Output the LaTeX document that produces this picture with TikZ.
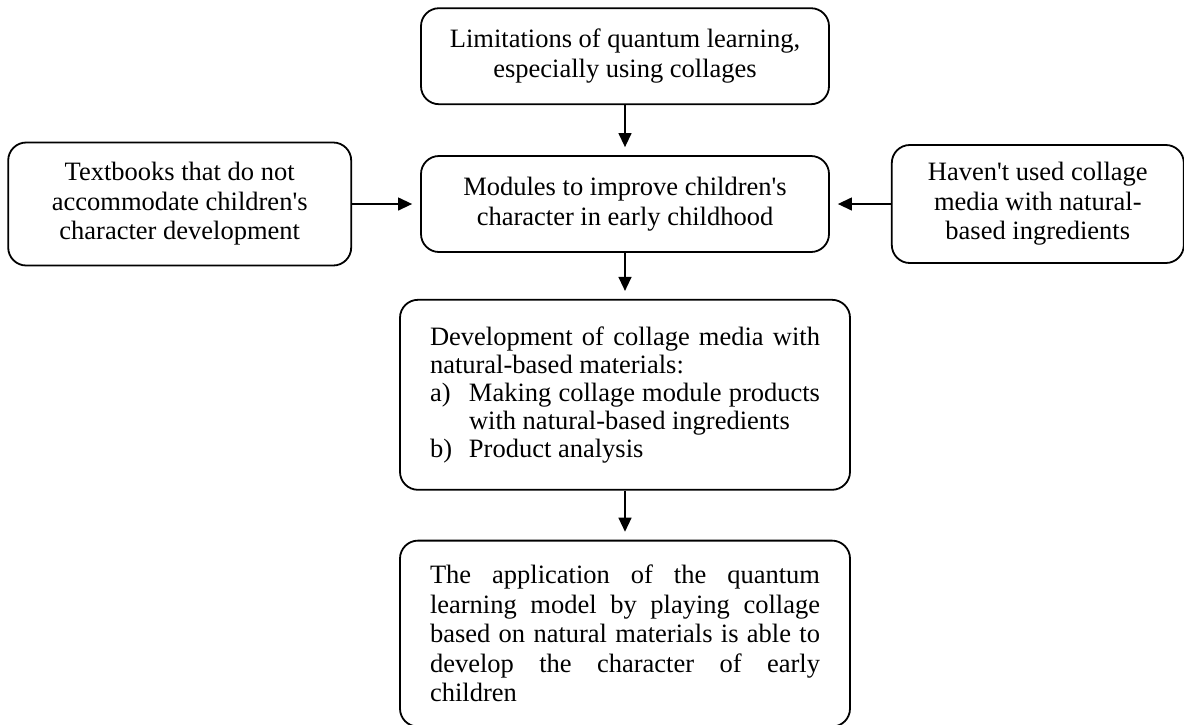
\documentclass[tikz,border=0pt]{standalone}
\usepackage{fontspec}
\setmainfont{Liberation Serif}
\usetikzlibrary{arrows.meta, positioning}

\begin{document}
\begin{tikzpicture}[
    node distance=50pt,
    card/.style={rectangle, draw, rounded corners=18pt, line width=1.8pt, align=center,
                 font=\fontsize{26.5}{29.5}\selectfont},
    textcard/.style={card, align=justify, text width=390pt, inner xsep=30pt},
    arr/.style={-{Triangle[length=14pt, width=13pt]}, line width=1.3pt, shorten >=8pt},
]
\useasboundingbox (0,0) rectangle (1184pt,-724pt);

\node[card, minimum width=408pt, minimum height=96pt] (modules) at (625pt,-204pt)
    {Modules to improve children\textquotesingle s\\character in early childhood};
\node[card, minimum width=408pt, minimum height=96pt, above=of modules] (limits)
    {Limitations of quantum learning,\\especially using collages};
\node[card, minimum width=343pt, minimum height=123pt, left=68pt of modules] (textbooks)
    {Textbooks that do not\\accommodate children\textquotesingle s\\character development};
\node[card, minimum width=292pt, minimum height=118pt, right=61pt of modules] (nocollage)
    {Haven\textquotesingle t used collage\\media with natural-\\based ingredients};

% development box with the a)/b) list
\node[textcard, minimum height=190pt, below=46pt of modules,
      font=\fontsize{26.5}{28}\selectfont] (develop)
    {Development of collage media with\linebreak natural-based materials:\par
     \hangindent=39pt\hangafter=1\makebox[39pt][l]{a)}Making collage module products\linebreak
     with natural-based ingredients\par
     \makebox[39pt][l]{b)}Product analysis};
\node[textcard, minimum height=186pt, below=49pt of develop] (outcome)
    {The application of the quantum\linebreak learning model by playing collage\linebreak
     based on natural materials is able to\linebreak develop the character of early\linebreak
     children};

\foreach \a/\b in {limits/modules, modules/develop, develop/outcome, textbooks/modules, nocollage/modules}
    \draw[arr] (\a) -- (\b);

\end{tikzpicture}
\end{document}
